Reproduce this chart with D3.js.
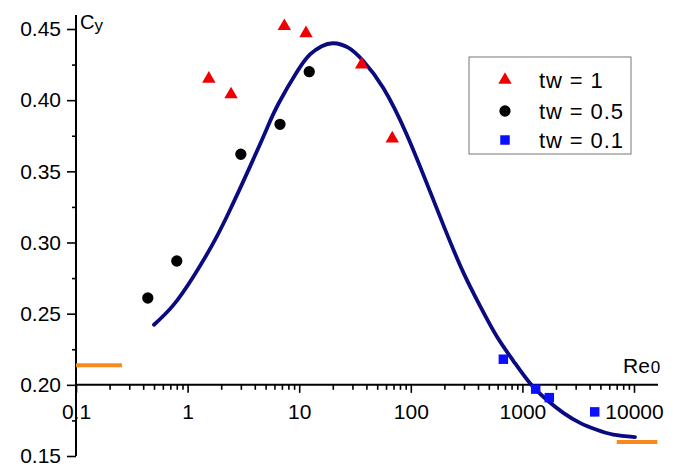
<!DOCTYPE html>
<html>
<head>
<meta charset="utf-8">
<script src="https://cdn.jsdelivr.net/npm/d3@7"></script>
<style>
  body { margin: 0; background: #fff; }
  svg { display: block; }
  text { font-family: Arial, "Liberation Sans", sans-serif; fill: #000; }
</style>
</head>
<body>
<div id="chart"></div>
<script>
// measured points
const redX = [1.55, 2.45, 7.36, 11.5, 36.3, 68.2];
const redY = [0.415, 0.404, 0.452, 0.447, 0.425, 0.373];
const blackX = [0.44, 0.80, 3.0, 6.73, 12.3];
const blackY = [0.261, 0.287, 0.362, 0.383, 0.420];
const blueX = [675, 1315, 1742, 4446];
const blueY = [0.218, 0.197, 0.191, 0.181];

// fitted curve
const fitX = [0.500, 0.745, 1.125, 1.644, 2.316, 3.623, 5.114, 6.497, 9.497, 12.50, 15.91, 20.21,
    27.54, 37.53, 56.70, 91.9, 148.6, 209.8, 295.3, 417.0, 588.5, 828.5, 1170, 1651, 2325,
    3281, 4633, 6525, 10210];
const fitY = [0.2422, 0.2560, 0.2760, 0.2976, 0.3204, 0.3533, 0.3798, 0.3973, 0.4196, 0.4321, 0.4379, 0.4400,
    0.4369, 0.4275, 0.4086, 0.3759, 0.3359, 0.3064, 0.2790, 0.2555, 0.2341, 0.2169, 0.2011, 0.1895, 0.1803,
    0.1733, 0.1684, 0.1650, 0.1633];

// limits (orange)
const limitX = [[0.1, 0.258], [7000, 16200]];
const limitY = [0.2137, 0.1598];

const yMajor = [0.15, 0.20, 0.25, 0.30, 0.35, 0.40, 0.45];
const yMinor = [0.175, 0.225, 0.275, 0.325, 0.375, 0.425];
const xMajor = [0.1, 1, 10, 100, 1000, 10000];
const xLabels = ["0.1", "1", "10", "100", "1000", "10000"];

const legendItems = [
    {label: "tw = 1", type: d3.symbolTriangle, size: 78, color: "#f00000"},
    {label: "tw = 0.5", type: d3.symbolCircle, size: 100, color: "#000"},
    {label: "tw = 0.1", type: d3.symbolSquare, size: 90, color: "#0a10ff"}
];

const width = 683, height = 466;
const svg = d3.select("#chart").append("svg")
    .attr("width", width)
    .attr("height", height);

const x = d3.scaleLog().domain([0.1, 10000]).range([76, 634]);
const y = d3.scaleLinear().domain([0.15, 0.45]).range([456, 29]);

const xMinor = [];
for (let e = -1; e < 4; e++) {
    for (let m = 2; m <= 9; m++) xMinor.push(m * Math.pow(10, e));
}

// y axis
const yAx = svg.append("g").attr("transform", `translate(${x(0.1)},0)`);
yAx.call(d3.axisLeft(y).tickValues(yMajor).tickSize(9).tickPadding(6)
        .tickFormat(d3.format(".2f")))
    .call(g => g.select(".domain").remove())
    .selectAll("text").style("font-size", "21px");
svg.append("g").attr("transform", `translate(${x(0.1)},0)`)
    .call(d3.axisLeft(y).tickValues(yMinor).tickSize(4).tickFormat(""))
    .call(g => g.select(".domain").remove());

// x axis
const xAx = svg.append("g").attr("transform", `translate(0,${y(0.20)})`);
xAx.call(d3.axisBottom(x).tickValues(xMajor).tickSize(8).tickPadding(11)
        .tickFormat((d, i) => xLabels[i]))
    .call(g => g.select(".domain").remove())
    .selectAll("text").style("font-size", "21px");
svg.append("g").attr("transform", `translate(0,${y(0.20)})`)
    .call(d3.axisBottom(x).tickValues(xMinor).tickSize(5).tickFormat(""))
    .call(g => g.select(".domain").remove());

svg.selectAll(".tick line").attr("stroke", "#000").attr("stroke-width", 1.6);

svg.append("line")
    .attr("x1", x(0.1)).attr("x2", x(0.1))
    .attr("y1", 15).attr("y2", y(0.15))
    .attr("stroke", "#000").attr("stroke-width", 2);
svg.append("line")
    .attr("x1", x(0.1)).attr("x2", 658)
    .attr("y1", y(0.20)).attr("y2", y(0.20))
    .attr("stroke", "#000").attr("stroke-width", 2);

// axis titles
const cy = svg.append("text").attr("x", 80).attr("y", 29).style("font-size", "20px");
cy.append("tspan").text("C");
cy.append("tspan").attr("dy", 2).style("font-size", "17px").text("y");

const re = svg.append("text").attr("x", 623).attr("y", 373).style("font-size", "21px");
re.append("tspan").text("Re");
re.append("tspan").attr("dx", 1).style("font-size", "17px").text("0");

// orange limits
svg.selectAll(".limit")
    .data(limitX)
    .enter()
    .append("line")
    .attr("class", "limit")
    .attr("x1", d => x(d[0]))
    .attr("x2", d => x(d[1]))
    .attr("y1", (d, i) => y(limitY[i]))
    .attr("y2", (d, i) => y(limitY[i]))
    .attr("stroke", "#f68a1e")
    .attr("stroke-width", 4);

// fit curve
const line = d3.line()
    .x(d => x(d[0]))
    .y(d => y(d[1]))
    .curve(d3.curveNatural);
svg.append("path")
    .datum(fitX.map((v, i) => [v, fitY[i]]))
    .attr("d", line)
    .attr("fill", "none")
    .attr("stroke", "#0b0b80")
    .attr("stroke-width", 3.8)
    .attr("stroke-linecap", "round");

// markers
function drawPoints(xs, ys, item) {
    svg.append("g").selectAll("path")
        .data(xs.map((v, i) => [v, ys[i]]))
        .enter()
        .append("path")
        .attr("d", d3.symbol().type(item.type).size(item.size))
        .attr("transform", d => `translate(${x(d[0])},${y(d[1])})`)
        .attr("fill", item.color);
}
drawPoints(redX, redY, legendItems[0]);
drawPoints(blackX, blackY, legendItems[1]);
drawPoints(blueX, blueY, legendItems[2]);

// legend
const legend = svg.append("g").attr("transform", "translate(469,57)");
legend.append("rect")
    .attr("width", 162).attr("height", 97)
    .attr("fill", "#fff")
    .attr("stroke", "#777")
    .attr("stroke-width", 1);
const li = legend.selectAll(".item")
    .data(legendItems)
    .enter()
    .append("g")
    .attr("transform", (d, i) => `translate(36,${[23, 54, 83][i]})`);
li.append("path")
    .attr("d", d => d3.symbol().type(d.type).size(d.size)())
    .attr("fill", d => d.color);
li.append("text")
    .attr("x", 34)
    .attr("y", 8)
    .style("font-size", "22px")
    .style("letter-spacing", "0.9px")
    .text(d => d.label);
</script>
</body>
</html>
